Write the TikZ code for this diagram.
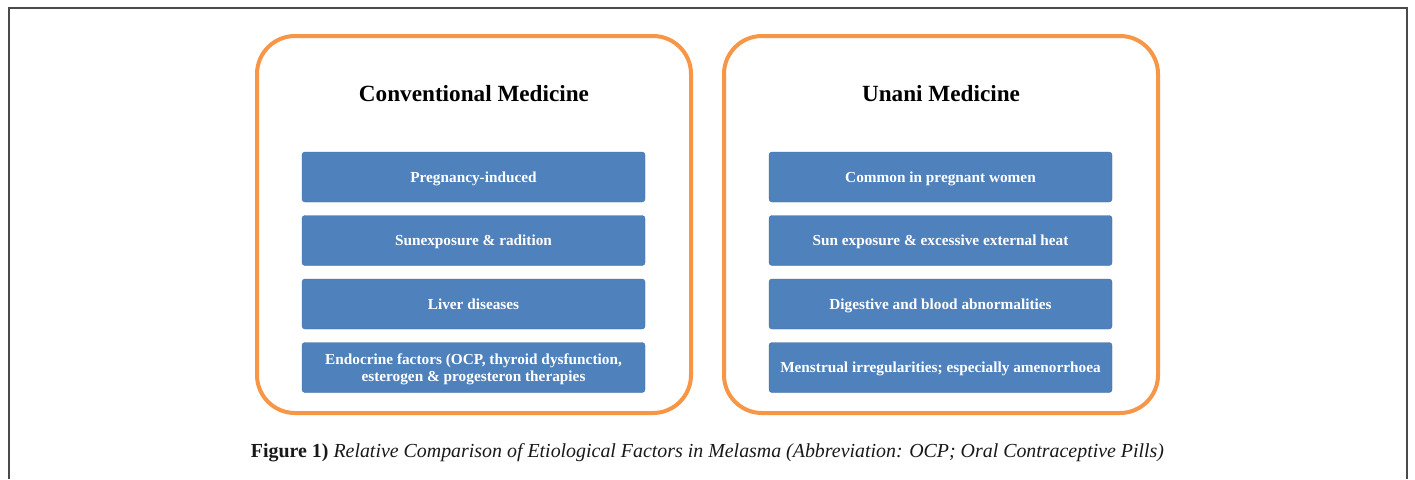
\documentclass[tikz,border=0pt]{standalone}
\usepackage{fontspec}
\setmainfont{Liberation Serif}
\definecolor{frameg}{HTML}{4A4A4A}
\definecolor{orng}{HTML}{F79646}
\definecolor{blu}{HTML}{4F81BD}
\tikzset{
  panel/.style={draw=orng, line width=4pt, rounded corners=38pt, fill=white},
  factor/.style={fill=blu, draw=blu!85!black, line width=0.4pt, rounded corners=3pt, text=white,
    font=\fontsize{15.3}{16.5}\selectfont\bfseries, align=center, minimum width=343pt, minimum height=50pt,
    inner sep=0pt, text depth=0pt},
  ttl/.style={font=\fontsize{23.2}{25}\selectfont\bfseries, text=black},
}
\begin{document}
\begin{tikzpicture}[x=1pt,y=-1pt]
\useasboundingbox (0,0) rectangle (1415,479);
\fill[white] (0,0) rectangle (1415,479);
\draw[frameg, line width=2pt] (9,479) -- (9,8) -- (1407,8) -- (1407,479);
% panels
\draw[panel] (257,36) rectangle (691,413);
\draw[panel] (724,36) rectangle (1158,413);
\node[ttl] (t1) at (474,94) {Conventional Medicine};
\node[ttl] (t2) at (941,94) {Unani Medicine};
% left factors
\node[factor] (l1) at (473.5,177) {Pregnancy-induced};
\node[factor] (l2) at (473.5,240.5) {Sunexposure \& radition};
\node[factor] (l3) at (473.5,304) {Liver diseases};
\node[factor] (l4) at (473.5,367.5) {Endocrine factors (OCP, thyroid dysfunction,\\esterogen \& progesteron therapies};
% right factors
\node[factor] (r1) at (940.5,177) {Common in pregnant women};
\node[factor] (r2) at (940.5,240.5) {Sun exposure \& excessive external heat};
\node[factor] (r3) at (940.5,304) {Digestive and blood abnormalities};
\node[factor] (r4) at (940.5,367.5) {Menstrual irregularities; especially amenorrhoea};
% caption
\node[font=\fontsize{19.9}{22}\selectfont, text=black!90] (cap) at (707.5,452.5)
  {\textbf{Figure 1)} \textit{Relative Comparison of Etiological Factors in Melasma (Abbreviation: OCP; Oral Contraceptive Pills)}};
\end{tikzpicture}
\end{document}
